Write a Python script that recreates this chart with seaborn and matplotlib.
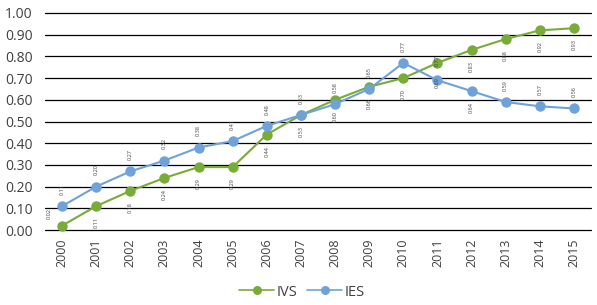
import numpy as np
import matplotlib
matplotlib.use("Agg")
import matplotlib.pyplot as plt
import pandas as pd
import seaborn as sns
from matplotlib.lines import Line2D

# datos
years = list(range(2000, 2016))
ivs = [0.02, 0.11, 0.18, 0.24, 0.29, 0.29, 0.44, 0.53, 0.60, 0.66, 0.70, 0.77, 0.83, 0.88, 0.92, 0.93]
ies = [0.11, 0.20, 0.27, 0.32, 0.38, 0.41, 0.48, 0.53, 0.58, 0.65, 0.77, 0.69, 0.64, 0.59, 0.57, 0.56]
yticks = [0.0, 0.1, 0.2, 0.3, 0.4, 0.5, 0.6, 0.7, 0.8, 0.9, 1.0]

green = "#78AB38"
blue = "#6FA2D9"
text_col = "#404040"

sns.set_theme(style="white")
plt.rcParams['font.family'] = ['Open Sans', 'DejaVu Sans']

df = pd.DataFrame({"year": years + years,
                   "value": ivs + ies,
                   "serie": ["IVS"] * len(years) + ["IES"] * len(years)})

fig = plt.figure(figsize=(5.97, 3.05), dpi=100)
ax = fig.add_axes([45 / 597, 1 - 230 / 305, 546 / 597, 217 / 305])

for yv in yticks:
    ax.axhline(yv, color="black", lw=0.9, zorder=0)

sns.lineplot(data=df, x="year", y="value", hue="serie", palette={"IVS": green, "IES": blue},
             hue_order=["IVS", "IES"], marker="o", markersize=7.5, markeredgewidth=0,
             linewidth=1.5, ax=ax, legend=False, zorder=3)

# etiquetas de datos (IVS debajo, IES encima, salvo excepciones)
lab_kw = dict(rotation=90, fontsize=4, color=text_col, ha="center", va="center")
for i, y in enumerate(years):
    if i == 0:
        ax.annotate(f"{ivs[i]:.2f}", (y, ivs[i]), xytext=(-9, 9), textcoords="offset points", **lab_kw)
    elif y == 2011:
        ax.annotate(f"{ivs[i]:.2f}", (y, ivs[i]), xytext=(0, 2), textcoords="offset points", **lab_kw)
    else:
        ax.annotate(f"{ivs[i]:.2f}", (y, ivs[i]), xytext=(0, -12), textcoords="offset points", **lab_kw)
    if y == 2011:
        ax.annotate(f"{ies[i]:.2f}", (y, ies[i]), xytext=(0, -2), textcoords="offset points", **lab_kw)
    elif y == 2012:
        ax.annotate(f"{ies[i]:.2f}", (y, ies[i]), xytext=(0, -12), textcoords="offset points", **lab_kw)
    else:
        ax.annotate(f"{ies[i]:.2f}", (y, ies[i]), xytext=(0, 12), textcoords="offset points", **lab_kw)

ax.set_xlim(years[0] - 0.5, years[-1] + 0.5)
ax.set_ylim(0, 1.0)
ax.set_xticks(years)
ax.set_xticklabels([str(y) for y in years], rotation=90, fontsize=9, color=text_col)
ax.set_yticks(yticks)
ax.set_yticklabels([f"{v:.2f}" for v in yticks], fontsize=10, color=text_col)
ax.tick_params(axis="y", length=0, pad=9)
ax.tick_params(axis="x", length=0, pad=6)
ax.set_xlabel("")
ax.set_ylabel("")
for s in ax.spines.values():
    s.set_visible(False)
for ln in ax.lines:
    ln.set_clip_on(False)

handles = [Line2D([], [], color=green, marker="o", markersize=6.5, markeredgewidth=0, lw=1.2),
           Line2D([], [], color=blue, marker="o", markersize=6.5, markeredgewidth=0, lw=1.2)]
fig.legend(handles, ["IVS", "IES"], loc="center", bbox_to_anchor=(302 / 597, 1 - 292 / 305),
           ncol=2, frameon=False, fontsize=10.5, handlelength=2.4, handletextpad=0.15, columnspacing=0.7,
           labelcolor=text_col)

fig.savefig("out.png", dpi=100)
